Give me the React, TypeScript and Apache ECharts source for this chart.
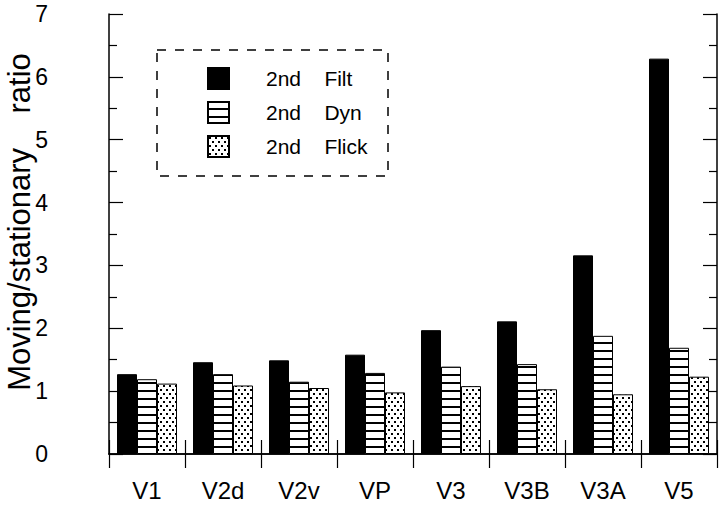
import React, { useEffect, useRef } from "react";
import * as echarts from "echarts";

const categories = ["V1", "V2d", "V2v", "VP", "V3", "V3B", "V3A", "V5"];
const seriesNames = ["2nd Filt", "2nd Dyn", "2nd Flick"];
const filtValues = [1.27, 1.46, 1.49, 1.58, 1.97, 2.11, 3.16, 6.29];
const dynValues = [1.19, 1.27, 1.15, 1.29, 1.39, 1.43, 1.88, 1.69];
const flickValues = [1.12, 1.09, 1.05, 0.98, 1.08, 1.03, 0.95, 1.23];
const yAxisName = "Moving/stationary    ratio";

const FONT = "'Liberation Sans', Arial, Helvetica, sans-serif";

function stripeCanvas(): HTMLCanvasElement {
  const c = document.createElement("canvas");
  c.width = 8;
  c.height = 8;
  const ctx = c.getContext("2d")!;
  ctx.fillStyle = "#ffffff";
  ctx.fillRect(0, 0, 8, 8);
  ctx.fillStyle = "#000000";
  ctx.fillRect(0, 6, 8, 2);
  return c;
}

function dotCanvas(): HTMLCanvasElement {
  const c = document.createElement("canvas");
  c.width = 12;
  c.height = 8;
  const ctx = c.getContext("2d")!;
  ctx.fillStyle = "#ffffff";
  ctx.fillRect(0, 0, 12, 8);
  ctx.fillStyle = "#000000";
  const dots = [
    [1, 1],
    [7, 1],
    [4, 5],
    [10, 5],
  ];
  dots.forEach(([x, y]) => ctx.fillRect(x, y, 2, 2));
  return c;
}

export default function App() {
  const ref = useRef<HTMLDivElement>(null);

  useEffect(() => {
    if (!ref.current) return;
    const chart = echarts.init(ref.current, undefined, { renderer: "svg" });
    const stripes = { image: stripeCanvas(), repeat: "repeat" } as any;
    const dots = { image: dotCanvas(), repeat: "repeat" } as any;

    const tickStyle = { color: "#000", width: 1.2 };
    const axisLine = { show: true, lineStyle: { color: "#000", width: 1.5 } };

    chart.setOption({
      animation: false,
      backgroundColor: "#fff",
      textStyle: { fontFamily: FONT },
      grid: { left: 109, right: 3, top: 14, bottom: 52, outerBoundsMode: "none", containLabel: false },
      legend: {
        orient: "vertical",
        left: 207,
        top: 67,
        padding: 0,
        itemWidth: 21,
        itemHeight: 21,
        itemGap: 11,
        icon: "rect",
        data: seriesNames,
        formatter: (name: string) => name.replace(" ", "    "),
        textStyle: {
          fontSize: 21,
          color: "#000",
          fontFamily: FONT,
          padding: [0, 0, 0, 32],
        },
      },
      graphic: [
        {
          type: "rect",
          shape: { x: 157, y: 50, width: 231, height: 126 },
          style: { fill: "none", stroke: "#000", lineWidth: 1.5, lineDash: [9, 9] },
          z: 1,
        },
      ],
      xAxis: [
        {
          type: "category",
          data: categories,
          position: "bottom",
          axisLine,
          axisTick: { show: true, inside: true, length: 14, lineStyle: tickStyle },
          axisLabel: { fontSize: 24, color: "#000", margin: 24, fontFamily: FONT },
          splitLine: { show: false },
        },
        {
          type: "category",
          data: categories,
          position: "top",
          axisLine,
          axisTick: { show: true, inside: true, length: 14, lineStyle: tickStyle },
          axisLabel: { show: false },
          splitLine: { show: false },
        },
      ],
      yAxis: [
        {
          type: "value",
          min: 0,
          max: 7,
          interval: 1,
          position: "left",
          name: yAxisName,
          nameLocation: "middle",
          nameRotate: 90,
          nameGap: 74,
          nameMoveOverlap: false,
          nameTextStyle: { fontSize: 31, color: "#000", fontFamily: FONT, padding: [0, 0, 0, 24] },
          axisLine,
          axisTick: { show: true, inside: true, length: 14, lineStyle: tickStyle },
          minorTick: { show: true, splitNumber: 2, length: 8, lineStyle: tickStyle },
          axisLabel: { fontSize: 23, color: "#000", margin: 61, fontFamily: FONT },
          splitLine: { show: false },
        },
        {
          type: "value",
          min: 0,
          max: 7,
          interval: 1,
          position: "right",
          axisLine,
          axisTick: { show: true, inside: true, length: 14, lineStyle: tickStyle },
          minorTick: { show: true, splitNumber: 2, length: 8, lineStyle: tickStyle },
          axisLabel: { show: false },
          splitLine: { show: false },
        },
      ],
      series: [
        {
          name: seriesNames[0],
          type: "bar",
          data: filtValues,
          barWidth: 20,
          barGap: "0%",
          itemStyle: { color: "#000", borderColor: "#000", borderWidth: 1 },
        },
        {
          name: seriesNames[1],
          type: "bar",
          data: dynValues,
          barWidth: 20,
          barGap: "0%",
          itemStyle: { color: stripes, borderColor: "#000", borderWidth: 1 },
        },
        {
          name: seriesNames[2],
          type: "bar",
          data: flickValues,
          barWidth: 20,
          barGap: "0%",
          itemStyle: { color: dots, borderColor: "#000", borderWidth: 1 },
        },
      ],
    });

    return () => chart.dispose();
  }, []);

  return <div ref={ref} style={{ width: 720, height: 506, position: "absolute", left: 0, top: 0 }} />;
}
